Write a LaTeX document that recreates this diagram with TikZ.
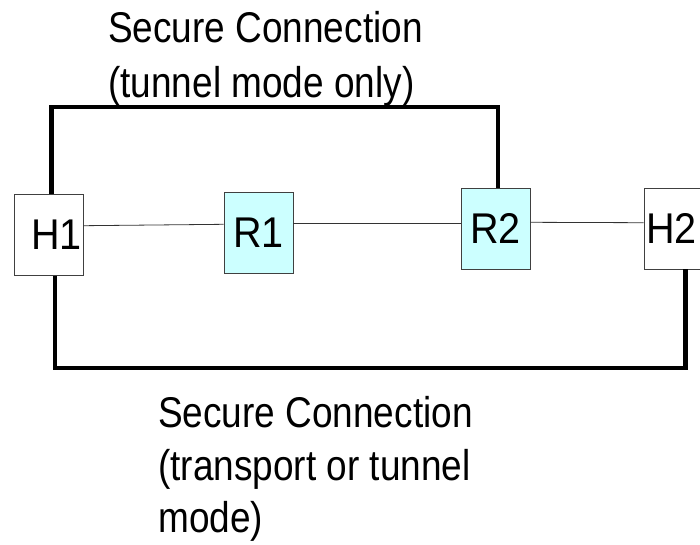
\documentclass[tikz,border=0pt]{standalone}
\usepackage{fontspec}
\setmainfont[FakeStretch=0.86]{Liberation Sans}
\newfontfamily\labfont[FakeStretch=0.92]{Liberation Sans}
\usetikzlibrary{calc}
\definecolor{routerfill}{HTML}{CCFFFF}
\begin{document}
\begin{tikzpicture}[x=1pt,y=-1pt,
  boxbase/.style={draw=black!75, line width=0.8pt, rectangle, inner sep=0pt,
    minimum width=69pt, minimum height=81pt, font=\labfont\fontsize{43}{50}\selectfont},
  host/.style={boxbase, fill=white},
  router/.style={boxbase, fill=routerfill},
  link/.style={draw=black!80, line width=0.8pt},
  secure/.style={draw=black, line width=4.5pt, line join=miter},
  caption/.style={anchor=base west, inner sep=0pt, font=\fontsize{43}{54}\selectfont}]
\useasboundingbox (0,0) rectangle (700,544);
\fill[white] (0,0) rectangle (700,544);

\node[host] (H1) at (48.5,235) {\hspace*{16pt}H1};
\node[router] (R1) at (258.5,232.5) {R1};
\node[router] (R2) at (495.5,228.5) {R2};
\node[host, minimum width=66pt] (H2) at (677,228.5) {H2\hspace*{11pt}};

\draw[link] ([yshift=9.3pt]H1.east) -- ([yshift=8.2pt]R1.west);
\draw[link] ([yshift=9.2pt]R1.east) -- ([yshift=5.2pt]R2.west);
\draw[link] ([yshift=6.2pt]R2.east) -- ([yshift=5.8pt]H2.west);

\coordinate (TL) at (51.7,107);
\coordinate (TR) at (498,107);
\draw[secure] ([xshift=3.2pt]H1.north) -- (TL) -- (TR) -- ([xshift=2.5pt]R2.north);
\coordinate (BL) at (55,368);
\coordinate (BR) at (685.5,368);
\draw[secure] ([xshift=6.5pt]H1.south) -- (BL) -- (BR) -- ([xshift=8.5pt]H2.south);

\node[caption] (t1) at (108,42) {Secure Connection};
\node[caption] (t2) at (108,97) {(tunnel mode only)};
\node[caption] (b1) at (158,427) {Secure Connection};
\node[caption] (b2) at (158,480) {(transport or tunnel};
\node[caption] (b3) at (158,532) {mode)};
\end{tikzpicture}
\end{document}
